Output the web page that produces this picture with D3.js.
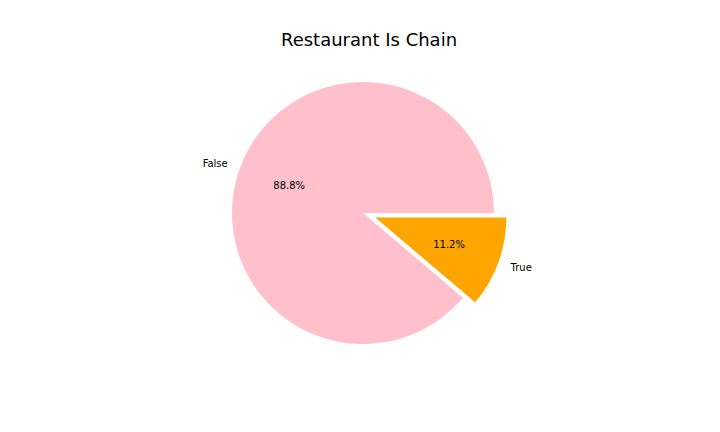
<!DOCTYPE html>
<html><head><meta charset="utf-8">
<script src="https://cdn.jsdelivr.net/npm/d3@7"></script>
<style>body{margin:0;background:#fff}svg{display:block;font-family:"DejaVu Sans",sans-serif}</style>
</head><body>
<script>
const categories = ["False", "True"];
const values = [88.8, 11.2];
const colors = ["#FFC0CB", "#FFA500"];
const explode = [0, 0.1];
const title = "Restaurant Is Chain";

const W = 720, H = 432, cx = 363, cy = 213, R = 131;
const svg = d3.select("body").append("svg").attr("width", W).attr("height", H);
svg.append("rect").attr("width", W).attr("height", H).attr("fill", "#fff");

svg.append("text").attr("x", 369).attr("y", 46).attr("text-anchor", "middle")
  .attr("font-size", 18).attr("fill", "#000").text(title);

// matplotlib: start at 3 o'clock, counterclockwise
const pie = d3.pie().sort(null).startAngle(Math.PI / 2).endAngle(Math.PI / 2 - 2 * Math.PI);
const arcs = pie(values);
const arc = d3.arc().innerRadius(0).outerRadius(R);
const total = d3.sum(values);

const g = svg.append("g").attr("transform", `translate(${cx},${cy})`);
arcs.forEach((d, i) => {
  const mid = (d.startAngle + d.endAngle) / 2;
  const dx = Math.sin(mid) * explode[i] * R, dy = -Math.cos(mid) * explode[i] * R;
  const sg = g.append("g").attr("transform", `translate(${dx},${dy})`);
  sg.append("path").attr("d", arc(d)).attr("fill", colors[i]);
  const lx = Math.sin(mid) * 1.1 * R, ly = -Math.cos(mid) * 1.1 * R;
  sg.append("text").attr("x", lx).attr("y", ly).attr("dy", "0.35em")
    .attr("text-anchor", lx > 0 ? "start" : "end").attr("font-size", 10).attr("fill", "#000")
    .text(categories[i]);
  const px = Math.sin(mid) * 0.6 * R, py = -Math.cos(mid) * 0.6 * R;
  sg.append("text").attr("x", px).attr("y", py).attr("dy", "0.35em")
    .attr("text-anchor", "middle").attr("font-size", 10).attr("fill", "#000")
    .text((values[i] / total * 100).toFixed(1) + "%");
});
</script>
</body></html>
